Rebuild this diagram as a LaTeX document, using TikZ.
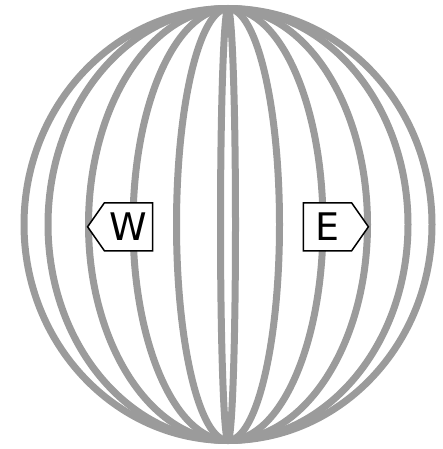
\documentclass[tikz,border=0pt]{standalone}
\usepackage{fontspec}
\setsansfont{DejaVu Sans}
\usetikzlibrary{shapes.symbols}
\definecolor{meridgray}{HTML}{9B9B9B}
\tikzset{meridian/.style={draw=meridgray,line width=7pt,line join=round},
  compass/.style={signal,draw,fill=white,line width=1.5pt,minimum height=48pt,
    minimum width=65pt,inner xsep=4pt,signal pointer angle=110,
    font=\sffamily\fontsize{38}{40}\selectfont}}
\begin{document}
\begin{tikzpicture}[x=1pt,y=-1pt]
\useasboundingbox (0,0) rectangle (442,449);
\coordinate (c) at (228,224.5);
\foreach \r in {7.5,51.5,95,139.5,180,204}
  \draw[meridian] (c) ellipse [x radius=\r, y radius=216];
\node[compass,signal to=west] (west) at (128.5,226.8) {W};
\node[compass,signal to=east] (east) at (327.5,226.8) {E};
\end{tikzpicture}
\end{document}
